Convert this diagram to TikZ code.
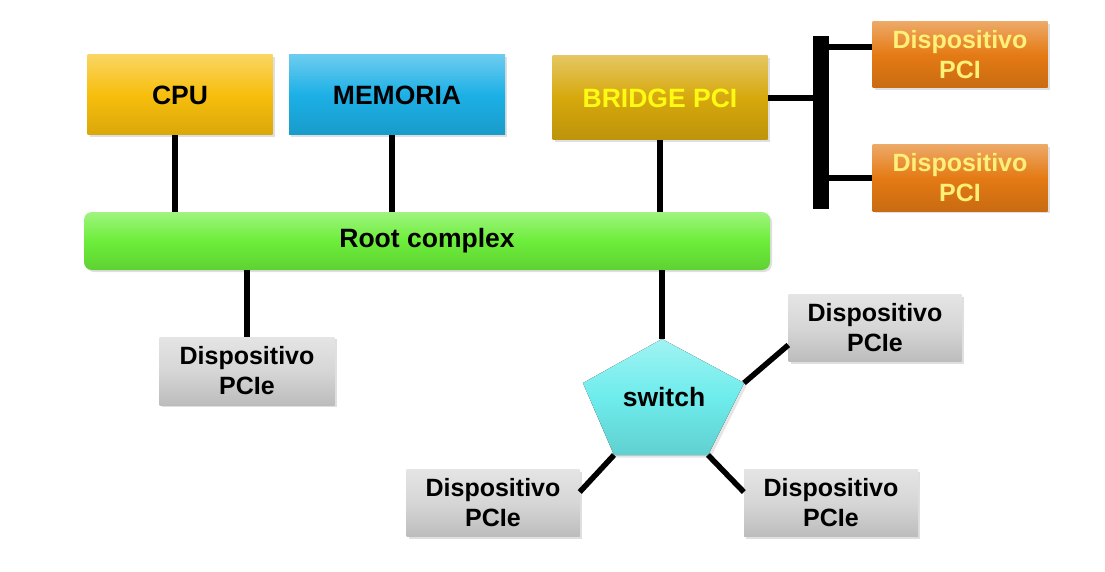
\documentclass[tikz,border=0pt]{standalone}
\usepackage{fontspec}
\setmainfont{Liberation Sans}
\usetikzlibrary{shadows}

\definecolor{cpuyellow}{RGB}{247,190,12}
\definecolor{memblue}{RGB}{28,176,230}
\definecolor{bridgegold}{RGB}{214,168,12}
\definecolor{pciorange}{RGB}{228,122,20}
\definecolor{rootgreen}{RGB}{108,238,58}
\definecolor{pciegray}{RGB}{214,214,214}
\definecolor{swcyan}{RGB}{110,236,236}
\definecolor{pcitext}{RGB}{255,240,120}

\begin{document}
\begin{tikzpicture}[x=1pt, y=-1pt, font=\bfseries\fontsize{26.5}{30}\selectfont,
	bevel/.style={top color=#1!65!white, bottom color=#1!88!black, middle color=#1},
	box/.style={inner sep=0pt, align=center, drop shadow={opacity=0.25, shadow xshift=2pt, shadow yshift=-2pt}},
	dev/.style={box, font=\bfseries\fontsize{25}{30}\selectfont},
	link/.style={line width=5.5pt}]

				\fill[white] (0,0) rectangle (1105,572);
				\useasboundingbox (0,0) rectangle (1105,572);

				% upper row
				\node[box, bevel=cpuyellow, minimum width=185, minimum height=80] (cpu) at (180,95) {CPU};
				\node[box, bevel=memblue, minimum width=216, minimum height=80] (mem) at (397,95) {MEMORIA};
				\node[box, bevel=bridgegold, minimum width=215, minimum height=84, text={rgb,255:red,255;green,250;blue,20}] (bridge) at (660,98) {BRIDGE PCI};

				% PCI bus
				\node[fill=black, minimum width=16, minimum height=173, inner sep=0pt] (bus) at (821,122.5) {};
				\node[dev, bevel=pciorange, minimum width=175, minimum height=66, text=pcitext] (pci1) at (960,55) {Dispositivo\\PCI};
				\node[dev, bevel=pciorange, minimum width=175, minimum height=66, text=pcitext] (pci2) at (960,178) {Dispositivo\\PCI};

				\node[box, bevel=rootgreen, minimum width=686, minimum height=58, rounded corners=8pt] (root) at (427,241) {Root complex};

				% PCIe devices
				\node[dev, bevel=pciegray, minimum width=175, minimum height=68] (pcieA) at (247,371) {Dispositivo\\PCIe};
				\node[dev, bevel=pciegray, minimum width=173, minimum height=67] (pcieB) at (875,328) {Dispositivo\\PCIe};
				\node[dev, bevel=pciegray, minimum width=173, minimum height=67] (pcieC) at (493,503) {Dispositivo\\PCIe};
				\node[dev, bevel=pciegray, minimum width=174, minimum height=67] (pcieD) at (831,503) {Dispositivo\\PCIe};

				% switch
				\coordinate (swT) at (662,339);
				\coordinate (swR) at (744,383);
				\coordinate (swBR) at (708,455);
				\coordinate (swBL) at (614,455);
				\coordinate (swL) at (583,383);
				\fill[bevel=swcyan, drop shadow={opacity=0.2}] (swT) -- (swR) -- (swBR) -- (swBL) -- (swL) -- cycle;
				\node (sw) at (664,397) {switch};

				% links
				\draw[link] ([xshift=-5]cpu.south) -- ([xshift=-5]cpu.south |- root.north);
				\draw[link] ([xshift=-5]mem.south) -- ([xshift=-5]mem.south |- root.north);
				\draw[link] (bridge.south) -- (bridge.south |- root.north);
				\draw[link] (pcieA.north) -- (pcieA.north |- root.south);
				\draw[link] (swT |- root.south) -- (swT);
				\draw[link] (bridge.east) -- (bridge.east -| bus.west);
				\draw[link] ([yshift=8]pci1.west) -- ([yshift=8]pci1.west -| bus.east);
				\draw[link] (pci2.west) -- (pci2.west -| bus.east);
				\draw[link] (swR) -- ([yshift=-17]pcieB.west);
				\draw[link] (swBL) -- ([yshift=11]pcieC.east);
				\draw[link] (swBR) -- ([yshift=11]pcieD.west);

\end{tikzpicture}
\end{document}
